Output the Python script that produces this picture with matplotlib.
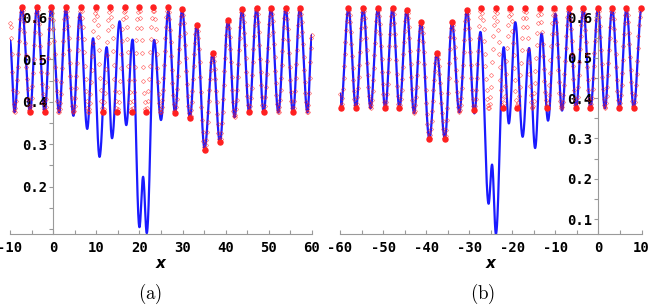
import numpy as np
import matplotlib
matplotlib.use("Agg")
import matplotlib.pyplot as plt
from matplotlib.ticker import MultipleLocator, FixedLocator

plt.rcParams['axes.unicode_minus'] = False
plt.rcParams['mathtext.fontset'] = 'cm'

# ---------------- data ----------------
# Panel (a): extrema of the blue curve
blue_a_x = [-10, -8.95, -7.25, -5.35, -3.75, -1.95, -0.45, 1.4, 2.95, 4.7, 6.2, 7.9,
            9.25, 10.75, 12.4, 13.65, 15.4, 16.95, 18.4, 20.0, 20.85, 21.7, 23.4, 25.0,
            26.7, 28.25, 29.9, 31.7, 33.3, 35.1, 37.0, 38.65, 40.55, 42.05, 43.8, 45.45,
            47.15, 48.8, 50.5, 52.2, 53.9, 55.6, 57.2, 58.95, 60]
blue_a_y = [0.545, 0.376, 0.623, 0.375, 0.623, 0.375, 0.623, 0.375, 0.620, 0.367, 0.609, 0.336,
            0.550, 0.270, 0.529, 0.314, 0.590, 0.345, 0.547, 0.104, 0.223, 0.090, 0.546, 0.357,
            0.614, 0.373, 0.617, 0.361, 0.581, 0.290, 0.515, 0.304, 0.593, 0.364, 0.618, 0.373,
            0.622, 0.375, 0.622, 0.375, 0.622, 0.375, 0.622, 0.375, 0.558]
# Panel (a): extrema of the red sampled series
red_a_x = [-10, -8.95, -7.25, -5.35, -3.75, -1.95, -0.45, 1.3, 2.95, 4.7, 6.45, 8.15,
           9.85, 11.5, 13.2, 14.85, 16.55, 18.2, 19.9, 21.55, 23.25, 24.9, 26.6, 28.25,
           29.9, 31.7, 33.3, 35.1, 37.0, 38.65, 40.55, 42.05, 43.8, 45.45, 47.15, 48.8,
           50.5, 52.2, 53.9, 55.6, 57.2, 58.95, 60]
red_a_y = [0.585, 0.376, 0.623, 0.375, 0.623, 0.375, 0.623, 0.375, 0.623, 0.375, 0.623, 0.375,
           0.623, 0.375, 0.623, 0.375, 0.623, 0.375, 0.623, 0.375, 0.623, 0.375, 0.623, 0.373,
           0.620, 0.361, 0.581, 0.287, 0.515, 0.304, 0.593, 0.364, 0.618, 0.375, 0.622, 0.375,
           0.622, 0.375, 0.622, 0.375, 0.622, 0.375, 0.558]
# Panel (a): filled red circles
dots_a_x = [-7.25, -3.75, -0.45, 2.95, 6.45, 9.85, 13.2, 16.55, 19.9, 23.25, 26.6, 29.9,
            33.3, 37.0, 40.55, 43.8, 47.15, 50.5, 53.9, 57.2,
            -5.35, -1.95, 11.5, 14.85, 18.2, 21.55, 28.25, 31.7, 35.1, 38.65, 45.45, 48.8, 55.6]
dots_a_y = [0.623, 0.623, 0.623, 0.623, 0.623, 0.623, 0.623, 0.623, 0.623, 0.623, 0.623, 0.620,
            0.581, 0.515, 0.593, 0.618, 0.622, 0.622, 0.622, 0.622,
            0.375, 0.375, 0.375, 0.375, 0.375, 0.375, 0.373, 0.361, 0.287, 0.304, 0.375, 0.375, 0.375]

# Panel (b): extrema of the blue curve
blue_b_x = [-60, -59.8, -58.05, -56.3, -54.6, -52.9, -51.2, -49.5, -47.8, -46.2, -44.5, -42.8,
            -41.2, -39.25, -37.5, -35.65, -34.0, -32.3, -30.5, -28.8, -27.4, -25.5, -24.7, -23.8,
            -22.0, -20.8, -19.3, -17.6, -16.1, -14.7, -13.2, -11.7, -10.0, -8.45, -6.8, -5.2,
            -3.5, -1.85, -0.1, 1.5, 3.2, 4.9, 6.5, 8.2, 10.0]
blue_b_y = [0.41, 0.376, 0.623, 0.375, 0.623, 0.375, 0.623, 0.375, 0.623, 0.375, 0.619, 0.363,
            0.588, 0.299, 0.511, 0.299, 0.588, 0.365, 0.619, 0.362, 0.564, 0.138, 0.235, 0.063,
            0.526, 0.337, 0.588, 0.304, 0.524, 0.276, 0.560, 0.344, 0.609, 0.369, 0.620, 0.375,
            0.622, 0.375, 0.622, 0.375, 0.622, 0.375, 0.622, 0.375, 0.622]
# Panel (b): extrema of the red sampled series
red_b_x = [-60, -59.8, -58.05, -56.3, -54.6, -52.9, -51.2, -49.5, -47.8, -46.2, -44.5, -42.8,
           -41.2, -39.25, -37.5, -35.65, -34.0, -32.3, -30.5, -28.85, -27.2, -25.5, -23.85, -22.15,
           -20.5, -18.8, -17.1, -15.35, -13.65, -11.95, -10.3, -8.6, -6.9, -5.2, -3.55, -1.85,
           -0.1, 1.5, 3.2, 4.85, 6.5, 8.2, 9.9, 10.0]
red_b_y = [0.41, 0.376, 0.623, 0.375, 0.623, 0.375, 0.623, 0.375, 0.623, 0.375, 0.619, 0.363,
           0.588, 0.299, 0.511, 0.299, 0.588, 0.365, 0.619, 0.370, 0.623, 0.375, 0.623, 0.375,
           0.623, 0.375, 0.623, 0.375, 0.623, 0.375, 0.623, 0.375, 0.623, 0.375, 0.623, 0.375,
           0.623, 0.375, 0.623, 0.375, 0.623, 0.375, 0.623, 0.622]
# Panel (b): filled red circles
dots_b_x = [-58.05, -54.6, -51.2, -47.8, -44.5, -41.2, -37.5, -34.0, -30.5, -27.2, -23.85,
            -20.5, -17.1, -13.65, -10.3, -6.9, -3.55, -0.1, 3.2, 6.5, 9.9,
            -59.8, -56.3, -49.5, -46.2, -39.25, -35.65, -28.85, -22.15, -18.8, -11.95, -5.2,
            -1.85, 4.85, 8.2]
dots_b_y = [0.623, 0.623, 0.623, 0.623, 0.619, 0.588, 0.511, 0.588, 0.619, 0.623, 0.623,
            0.623, 0.623, 0.623, 0.623, 0.623, 0.623, 0.623, 0.623, 0.623, 0.623,
            0.376, 0.375, 0.375, 0.375, 0.299, 0.299, 0.370, 0.375, 0.375, 0.375, 0.375,
            0.375, 0.375, 0.375]

xticks_a = [-10, 0, 10, 20, 30, 40, 50, 60]
yticks_a = [0.1, 0.2, 0.3, 0.4, 0.5, 0.6]
ylabels_a = ['', '0.2', '0.3', '0.4', '0.5', '0.6']
xticks_b = [-60, -50, -40, -30, -20, -10, 0, 10]
yticks_b = [0.1, 0.2, 0.3, 0.4, 0.5, 0.6]
ylabels_b = ['0.1', '0.2', '0.3', '0.4', '0.5', '0.6']


def smooth(xe, ye, xs):
    xe = np.asarray(xe, float)
    ye = np.asarray(ye, float)
    i = np.clip(np.searchsorted(xe, xs, side='right') - 1, 0, len(xe) - 2)
    t = (xs - xe[i]) / (xe[i + 1] - xe[i])
    return ye[i] + (ye[i + 1] - ye[i]) * (1 - np.cos(np.pi * t)) / 2


W, H = 650, 306
fig = plt.figure(figsize=(W / 100, H / 100), dpi=100)

AX_COL = '#9a9a9a'
BLUE = '#1a1aff'
RED = '#ff2020'


def panel(rect, xlim, ylim, bx, by, rx, ry, dx, dy, xt, yt, ylab):
    ax = fig.add_axes(rect)
    ax.set_xlim(*xlim)
    ax.set_ylim(*ylim)
    ax.patch.set_alpha(0)
    xs = np.linspace(xlim[0], xlim[1], 4000)
    ax.plot(xs, smooth(bx, by, xs), color=BLUE, lw=1.6, zorder=2)
    xr = np.arange(xlim[0], xlim[1] + 1e-9, 0.14)
    ax.plot(xr, smooth(rx, ry, xr), ls='none', marker='D', ms=2.2, mfc='none',
            mec=RED, mew=0.5, alpha=0.6, zorder=3, clip_on=False)
    ax.plot(dx, dy, ls='none', marker='o', ms=3.6, color=RED, mec=RED, zorder=4,
            clip_on=False)
    for s in ('top', 'right'):
        ax.spines[s].set_visible(False)
    ax.spines['left'].set_position(('data', 0))
    for s in ('left', 'bottom'):
        ax.spines[s].set_color(AX_COL)
        ax.spines[s].set_linewidth(0.8)
    ax.xaxis.set_major_locator(FixedLocator(xt))
    ax.xaxis.set_minor_locator(MultipleLocator(5))
    ax.set_yticks(yt)
    ax.set_yticklabels(ylab)
    ax.yaxis.set_minor_locator(MultipleLocator(0.05))
    ax.tick_params(axis='x', which='both', direction='in', length=3, width=0.8,
                   color=AX_COL, pad=5, labelsize=10)
    ax.tick_params(axis='y', which='both', direction='out', length=3, width=0.8,
                   color=AX_COL, pad=1.5, labelsize=10)
    for lab in ax.get_xticklabels() + ax.get_yticklabels():
        lab.set_fontfamily('DejaVu Sans Mono')
        lab.set_fontweight('bold')
    ax.set_axisbelow(False)
    return ax


panel([10 / W, 1 - 234 / H, 302 / W, 227.5 / H], (-10, 60), (0.088, 0.625),
      blue_a_x, blue_a_y, red_a_x, red_a_y, dots_a_x, dots_a_y,
      xticks_a, yticks_a, ylabels_a)
panel([340 / W, 1 - 234 / H, 301.5 / W, 226.7 / H], (-60, 10), (0.063, 0.625),
      blue_b_x, blue_b_y, red_b_x, red_b_y, dots_b_x, dots_b_y,
      xticks_b, yticks_b, ylabels_b)

for xc in (161, 490.5):
    fig.text(xc / W, 1 - 264 / H, 'x', ha='center', va='center', fontsize=11,
             fontweight='bold', fontstyle='italic', family='DejaVu Sans')
fig.text(150 / W, 1 - 294 / H, r'$\mathrm{(a)}$', ha='center', va='center', fontsize=13.5)
fig.text(483 / W, 1 - 294 / H, r'$\mathrm{(b)}$', ha='center', va='center', fontsize=13.5)

fig.savefig('out.png', dpi=100)
